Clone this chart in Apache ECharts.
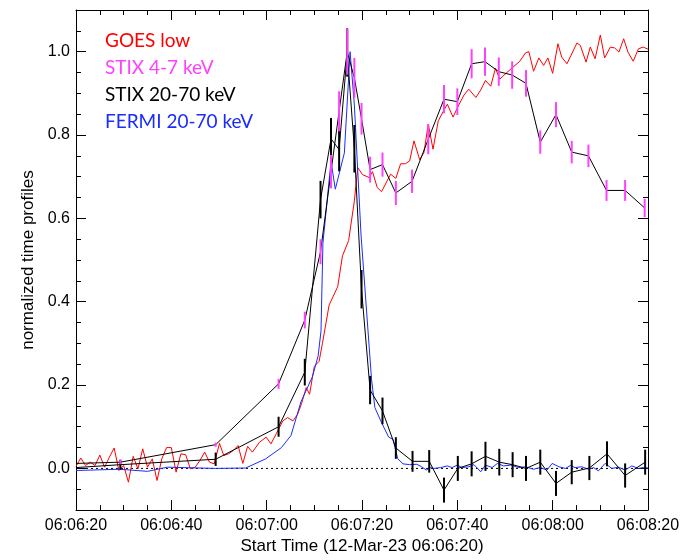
<!DOCTYPE html>
<html>
<head>
<meta charset="utf-8">
<script src="https://cdn.jsdelivr.net/npm/echarts@6/dist/echarts.min.js"></script>
<style>html,body{margin:0;padding:0;background:#fff}#c{width:700px;height:560px}</style>
</head>
<body>
<div id="c"></div>
<script>
// ---- data (time in seconds after 06:06:20) ----
const seriesNames = ['GOES low', 'STIX 4-7 keV', 'STIX 20-70 keV', 'FERMI 20-70 keV'];
const seriesColors = ['#ff0000', '#ff40ff', '#000000', '#1a2cff'];

const xTickLabels = ['06:06:20', '06:06:40', '06:07:00', '06:07:20', '06:07:40', '06:08:00', '06:08:20'];
const yMajorTicks = [0.0, 0.2, 0.4, 0.6, 0.8, 1.0];
const yMinorTicks = [-0.05, 0.05, 0.1, 0.15, 0.25, 0.3, 0.35, 0.45, 0.5, 0.55, 0.65, 0.7, 0.75, 0.85, 0.9, 0.95, 1.05];
const zeroLine = [[0, 0], [120, 0]];

const goesTime = [0,1,2,3,4,5,6,7,8,9,10,11,12,13,14,15,16,17,18,19,20,21,22,23,24,25,26,27,28,29,
  30.1,31,32,33,34,35,36,37,38.5,39.9,40.9,42,43.4,44.4,45.5,46.5,47.3,48.3,49,50,51,51.7,53.1,54.9,55.9,57.2,58.4,59.1,
  60.1,61.5,62.2,63.2,64.1,66,67.1,68.1,69.1,70,70.9,72.1,73,73.9,74.9,76,77.2,77.9,79.1,80.3,81.4,82.4,83.9,84.9,85.9,
  87,88,88.9,90.3,91.6,93.1,94.3,95,96,97.1,98.1,99,100,101.1,101.9,103,105.1,105.8,107,107.9,108.9,110,110.9,112.1,113,
  113.9,114.9,115.8,116.9,118,119,120];
const goesVal = [0.005,0.025,0.007,0.015,0.007,0.032,0.003,0.027,0.049,-0.005,0.007,-0.033,0.029,-0.001,0.047,0.003,0.023,-0.029,0.023,0.05,0.05,-0.009,0.035,0.033,-0.001,0.003,0.019,0.039,0.015,0.011,
  0.06,0.031,0.035,0.043,0.055,0.012,0.053,0.039,0.063,0.075,0.059,0.083,0.114,0.122,0.114,0.13,0.155,0.194,0.178,0.245,0.257,0.30,0.392,0.436,0.51,0.547,0.642,0.722,
  0.705,0.698,0.712,0.674,0.664,0.706,0.696,0.731,0.731,0.738,0.786,0.741,0.758,0.826,0.766,0.834,0.86,0.874,0.843,0.872,0.896,0.91,0.89,0.908,0.931,
  0.917,0.96,0.934,0.949,0.962,0.977,0.997,1.0,0.953,0.985,0.967,0.985,0.948,1.019,0.987,0.971,1.021,1.015,0.975,1.011,0.983,1.04,0.985,1.011,1.009,
  0.999,1.031,0.999,0.977,1.007,1.011,1.006];

const stixLoTime = [0,9.3,29.3,42.5,48,51.3,53.5,55.2,56.9,58.4,59.9,61.7,64.3,67.1,70.5,73.9,77.2,80,83,85.8,88.7,91.5,94.4,97.4,100.7,104,107.5,111.3,115.2,119.3];
const stixLoVal  = [0.012,0.015,0.057,0.203,0.356,0.52,0.712,0.857,1.0,0.937,0.839,0.717,0.729,0.661,0.689,0.79,0.886,0.88,0.971,0.976,0.952,0.944,0.924,0.783,0.849,0.759,0.75,0.667,0.667,0.625];
const stixLoErr  = [0,0.005,0.005,0.012,0.02,0.03,0.04,0.048,0.055,0.048,0.038,0.031,0.029,0.029,0.028,0.036,0.034,0.032,0.035,0.034,0.034,0.033,0.032,0.028,0.03,0.027,0.027,0.025,0.025,0.022];

const stixHiTime = [0,9.3,29.3,42.5,48,51.3,53.5,55.2,56.9,58.4,59.9,61.7,64.3,67.1,70.6,74.1,77.2,80.1,83,85.9,88.8,91.6,94.4,97.4,100.7,104,107.7,111.4,115.2,119.4];
const stixHiVal  = [0.002,0.009,0.022,0.10,0.231,0.645,0.791,0.765,0.998,0.767,0.43,0.188,0.138,0.049,0.017,0.017,-0.052,0.0,0.011,0.029,0.015,0.009,0.0,0.015,-0.036,-0.009,0.001,0.035,-0.017,0.015];
const stixHiErr  = [0,0.012,0.016,0.024,0.032,0.045,0.05,0.052,0.058,0.057,0.046,0.034,0.032,0.026,0.025,0.027,0.03,0.03,0.03,0.035,0.032,0.03,0.03,0.03,0.03,0.029,0.029,0.03,0.029,0.03];

const fermiTime = [0,9.1,15,19.2,29.3,35.6,39.8,43.1,45.1,47.2,49.6,50.8,51.4,51.8,53.5,54.4,56.3,57.5,58.4,59.8,62,62.7,64.1,65.6,66.5,67.5,68.6,70,71.5,72.5,73.5,74.3,
  75.1,76.5,77.9,78.9,80,81,82.4,83.5,84.9,85.9,87.3,88.4,89.7,91.2,92.9,94.3,96,97.4,98.8,99.9,101.3,102.7,103.7,104.7,106.1,107.5,108.6,109.6,111,112.4,113.8,115.2,116.6,118,119,120];
const fermiVal = [-0.005,-0.002,-0.007,0.003,0.0,0.001,0.023,0.05,0.079,0.16,0.22,0.27,0.33,0.54,0.737,0.67,0.757,1.0,0.872,0.56,0.214,0.146,0.11,0.075,0.07,0.023,0.011,0.009,0.01,0.004,-0.004,0.002,
  0.0,0.002,0.006,0.002,0.008,0.002,0.004,0.009,-0.008,0.008,0.002,0.012,0.006,0.008,0.002,0.004,-0.002,0.002,-0.004,0.012,0.004,0.0,0.007,0.002,0.004,-0.002,0.002,-0.006,0.012,0.0,0.003,-0.004,0.006,0.0,0.002,0.001];

// ---- build ----
const zip = (a, b) => a.map((t, i) => [t, b[i]]);
const errData = (t, v, e) => t.map((x, i) => [x, v[i] - e[i], v[i] + e[i]]).filter((d, i) => e[i] > 0);

function errSeries(data, color) {
  return {
    type: 'custom', xAxisIndex: 0, yAxisIndex: 0, data: data, clip: true, silent: true, z: 5,
    encode: { x: 0, y: [1, 2] },
    renderItem: function (params, api) {
      const p1 = api.coord([api.value(0), api.value(1)]);
      const p2 = api.coord([api.value(0), api.value(2)]);
      return { type: 'line', shape: { x1: p1[0], y1: p1[1], x2: p2[0], y2: p2[1] },
               style: { stroke: color, lineWidth: 2 } };
    }
  };
}

const FONT = '"Liberation Sans", Arial, Helvetica, sans-serif';
const black = { color: '#000', width: 1 };

const chart = echarts.init(document.getElementById('c'), null, { renderer: 'canvas' });
const lineBase = { type: 'line', showSymbol: false, symbol: 'none', xAxisIndex: 0, yAxisIndex: 0, clip: true, silent: true, animation: false };

chart.setOption({
  animation: false,
  backgroundColor: '#fff',
  grid: { left: 76, top: 10, width: 572, height: 505, containLabel: false },
  xAxis: [
    { type: 'value', position: 'bottom', min: 0, max: 120, interval: 20,
      axisLine: { show: true, onZero: false, lineStyle: black },
      axisTick: { show: true, inside: true, length: 10, lineStyle: black },
      minorTick: { show: true, splitNumber: 4, length: 5, lineStyle: black },
      axisLabel: { show: true, margin: 7, color: '#000', fontSize: 16, fontFamily: FONT,
        formatter: v => xTickLabels[Math.round(v / 20)] },
      splitLine: { show: false }, minorSplitLine: { show: false },
      name: 'Start Time (12-Mar-23 06:06:20)', nameLocation: 'middle', nameGap: 24,
      nameTextStyle: { color: '#000', fontSize: 17, fontFamily: FONT } },
    { type: 'value', position: 'top', min: 0, max: 120, interval: 20,
      axisLine: { show: true, onZero: false, lineStyle: black },
      axisTick: { show: true, inside: true, length: 10, lineStyle: black },
      minorTick: { show: true, splitNumber: 4, length: 5, lineStyle: black },
      axisLabel: { show: false }, splitLine: { show: false } }
  ],
  yAxis: [
    { type: 'value', position: 'left', min: -0.1, max: 1.1,
      axisLine: { show: true, onZero: false, lineStyle: black },
      axisTick: { show: true, inside: true, length: 10, lineStyle: black, customValues: yMajorTicks },
      axisLabel: { show: true, margin: 6, color: '#000', fontSize: 16, fontFamily: FONT,
        customValues: yMajorTicks, formatter: v => v.toFixed(1) },
      splitLine: { show: false },
      name: 'normalized time profiles', nameLocation: 'middle', nameGap: 36,
      nameTextStyle: { color: '#000', fontSize: 17, fontFamily: FONT } },
    { type: 'value', position: 'left', min: -0.1, max: 1.1,
      axisLine: { show: false, onZero: false },
      axisTick: { show: true, inside: true, length: 5, lineStyle: black, customValues: yMinorTicks },
      axisLabel: { show: false }, splitLine: { show: false } },
    { type: 'value', position: 'right', min: -0.1, max: 1.1,
      axisLine: { show: true, onZero: false, lineStyle: black },
      axisTick: { show: true, inside: true, length: 10, lineStyle: black, customValues: yMajorTicks },
      axisLabel: { show: false }, splitLine: { show: false } },
    { type: 'value', position: 'right', min: -0.1, max: 1.1,
      axisLine: { show: false, onZero: false },
      axisTick: { show: true, inside: true, length: 5, lineStyle: black, customValues: yMinorTicks },
      axisLabel: { show: false }, splitLine: { show: false } }
  ],
  series: [
    Object.assign({}, lineBase, { name: 'zero', data: zeroLine, z: 1,
      lineStyle: { color: '#000', width: 1, type: [2, 3] } }),
    Object.assign({}, lineBase, { name: seriesNames[0], data: zip(goesTime, goesVal), z: 2,
      lineStyle: { color: seriesColors[0], width: 1 } }),
    Object.assign({}, lineBase, { name: seriesNames[3], data: zip(fermiTime, fermiVal), z: 3,
      lineStyle: { color: seriesColors[3], width: 1 } }),
    Object.assign({}, lineBase, { name: seriesNames[1], data: zip(stixLoTime, stixLoVal), z: 4,
      lineStyle: { color: '#000', width: 1 } }),
    Object.assign({}, lineBase, { name: seriesNames[2], data: zip(stixHiTime, stixHiVal), z: 4,
      lineStyle: { color: '#000', width: 1 } }),
    errSeries(errData(stixHiTime, stixHiVal, stixHiErr), seriesColors[2]),
    errSeries(errData(stixLoTime, stixLoVal, stixLoErr), seriesColors[1])
  ],
  graphic: seriesNames.map((n, i) => ({
    type: 'text', left: 105, top: 31 + i * 27, z: 100,
    style: { text: n, fill: seriesColors[i], fontSize: 19, fontFamily: 'Lato, "Open Sans", sans-serif' }
  }))
});
</script>
</body>
</html>
